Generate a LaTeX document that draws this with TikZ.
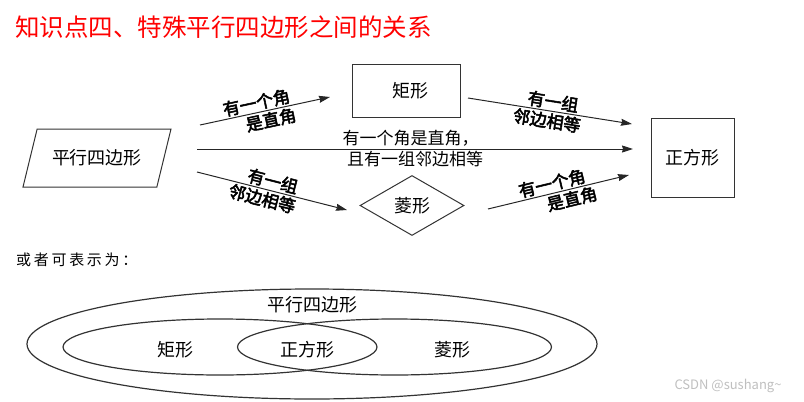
\documentclass[tikz,border=0pt]{standalone}
\usepackage{fontspec}
\setmainfont{Noto Sans CJK SC}
\newfontfamily\boldcjk[FakeBold=3]{Noto Sans CJK SC}
\newfontfamily\spacedcjk[LetterSpace=18]{Noto Sans CJK SC}
\usepackage{tikz}
\usetikzlibrary{arrows.meta, shapes.geometric}
\newcommand{\fs}[1]{\fontsize{#1}{#1}\selectfont}

\begin{document}
\begin{tikzpicture}[x=1pt, y=-1pt, >={Stealth[length=11pt, width=7pt, inset=1pt]},
    shapebox/.style={draw=black!80, line width=1pt, font=\fs{18}, inner sep=0pt},
    link/.style={->, draw=black!85, line width=1pt},
    note/.style={font=\boldcjk\fs{17}, sloped, inner sep=1.5pt},
    ring/.style={draw=black!80, line width=1.2pt}]

\useasboundingbox (0,0) rectangle (804,402);

% ── TITLE ─────────────────────────────────────────────────────────
\node[font=\fs{24.5}, text=red, anchor=west, inner sep=0pt] (title) at (15,27)
    {知识点四、特殊平行四边形之间的关系};

% ── FLOW CHART ────────────────────────────────────────────────────
\node[shapebox, trapezium, trapezium left angle=57.5, trapezium right angle=122.5,
      trapezium stretches=true, minimum width=148, minimum height=58] (pg) at (97,158)
    {\raisebox{-5pt}{平行四边形}};
\node[shapebox, rectangle, minimum width=108, minimum height=53] (rect) at (406,91) {\hspace{8pt}矩形};
\node[shapebox, diamond, aspect=1.73, minimum width=104, minimum height=60] (rh) at (412,205.5) {菱形};
\node[shapebox, rectangle, minimum width=83, minimum height=79] (sq) at (692.5,157.5) {\raisebox{-3pt}{正方形}};

% arrow ends
\coordinate (pg2rect) at (200,125);
\coordinate (rectin)  at (330,97);
\coordinate (pg2sq)   at (197,149);
\coordinate (sqmid)   at (633,149);
\coordinate (pg2rh)   at (197,172);
\coordinate (rhin)    at (347,210);
\coordinate (rect2sq) at (468,98);
\coordinate (sqtop)   at (632,124);
\coordinate (rh2sq)   at (488,209);
\coordinate (sqlow)   at (629,175);

\draw[link] (pg2rect) -- (rectin)
    node[note, above, pos=0.45] {有一个角}
    node[note, below, pos=0.53] {是直角};
\draw[link] (pg2sq) -- (sqmid)
    node[font=\fs{17}, above, pos=0.49, inner sep=2pt] {有一个角是直角，}
    node[font=\fs{17}, below, pos=0.5, inner sep=2pt] {且有一组邻边相等};
\draw[link] (pg2rh) -- (rhin)
    node[note, above, pos=0.49] {有一组}
    node[note, below, pos=0.45] {邻边相等};
\draw[link] (rect2sq) -- (sqtop)
    node[note, above, pos=0.51] {有一组}
    node[note, below, pos=0.49] {邻边相等};
\draw[link] (rh2sq) -- (sqlow)
    node[note, above, pos=0.47] {有一个角}
    node[note, below, pos=0.58] {是直角};

% ── VENN ──────────────────────────────────────────────────────────
\node[font=\spacedcjk\fs{15}, anchor=west, inner sep=0pt] (alt) at (16,260) {或者可表示为：};

\draw[ring] (312,344) ellipse (285 and 55);
\draw[ring] (220,347) ellipse (157 and 28);
\draw[ring] (394.5,347) ellipse (157 and 28);

\node[font=\fs{18}] (vpg) at (312,305) {平行四边形};
\node[font=\fs{18}] (vrect) at (175,350) {矩形};
\node[font=\fs{18}] (vsq) at (307,350) {正方形};
\node[font=\fs{18}] (vrh) at (452,350) {菱形};

% watermark
\node[font=\fs{13}, text=gray!50] (mark) at (728,386) {CSDN @sushang\textasciitilde};

\end{tikzpicture}
\end{document}
